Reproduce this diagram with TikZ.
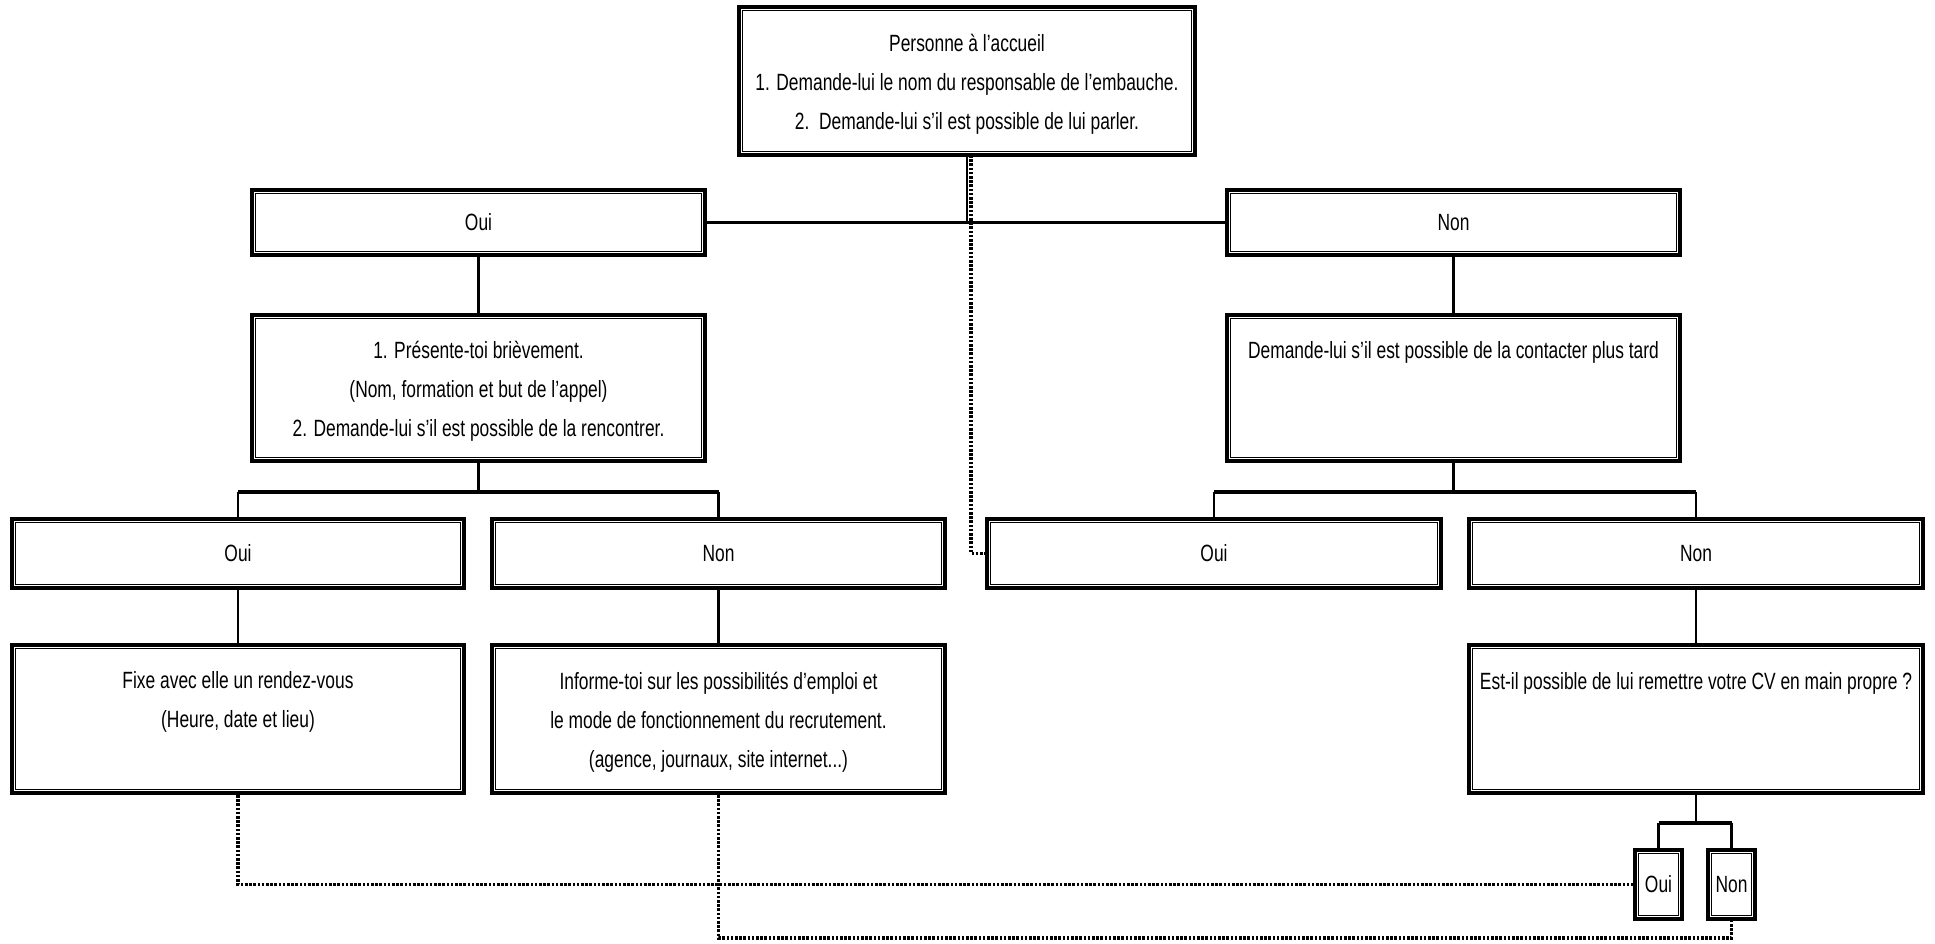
\documentclass[tikz,border=0pt]{standalone}
\usepackage{fontspec}
\setmainfont[FakeStretch=0.74]{Liberation Sans}
\usetikzlibrary{fit}
\tikzset{
  outerbox/.style={draw, line width=3.8pt, inner sep=0pt},
  innerline/.style={draw, line width=1.4pt},
  txt/.style={align=center, inner sep=0pt, font=\fontsize{23.5}{39}\selectfont},
  conn/.style={line width=2.2pt},
  bar/.style={line width=3.8pt},
  dots/.style={line width=3.2pt, dash pattern=on 2.6pt off 1.6pt}
}
\newcommand\dblbox[5]{%
  \node[outerbox, fit={(#2,#3) (#4,#5)}] (#1) {};
  \draw[innerline] ([shift={(5.5,5.5)}]#1.north west) rectangle ([shift={(-5.5,-5.5)}]#1.south east);
}
\begin{document}
\begin{tikzpicture}[x=1pt,y=-1pt]
\useasboundingbox (0,0) rectangle (1935,943);
% boxes
\dblbox{top}{739}{7}{1195}{155}
\dblbox{oui1}{252}{190}{705}{255}
\dblbox{non1}{1227}{190}{1680}{255}
\dblbox{pres}{252}{315}{705}{461}
\dblbox{tard}{1227}{315}{1680}{461}
\dblbox{ouiA}{12}{519}{464}{588}
\dblbox{nonA}{492}{519}{945}{588}
\dblbox{ouiB}{987}{519}{1441}{588}
\dblbox{nonB}{1469}{519}{1923}{588}
\dblbox{fixe}{12}{645}{464}{793}
\dblbox{info}{492}{645}{945}{793}
\dblbox{estil}{1469}{645}{1923}{793}
\dblbox{sOui}{1635}{850}{1682}{919}
\dblbox{sNon}{1708}{850}{1755}{919}
% texts
\node[txt] (t-top) at (967,84) {Personne à l'accueil\\1. Demande-lui le nom du responsable de l'embauche.\\2.\ \ Demande-lui s'il est possible de lui parler.};
\node[txt] (t-oui1) at (oui1) {Oui};
\node[txt] (t-non1) at (non1) {Non};
\node[txt] (t-pres) at (478.5,391) {1. Présente-toi brièvement.\\(Nom, formation et but de l'appel)\\2. Demande-lui s'il est possible de la rencontrer.};
\node[txt] (t-tard) at (1453.5,352) {Demande-lui s'il est possible de la contacter plus tard};
\node[txt] (t-ouiA) at (ouiA) {Oui};
\node[txt] (t-nonA) at (nonA) {Non};
\node[txt] (t-ouiB) at (ouiB) {Oui};
\node[txt] (t-nonB) at (nonB) {Non};
\node[txt] (t-fixe) at (238,702) {Fixe avec elle un rendez-vous\\(Heure, date et lieu)};
\node[txt] (t-info) at (718.5,722) {Informe-toi sur les possibilités d'emploi et\\le mode de fonctionnement du recrutement.\\(agence, journaux, site internet...)};
\node[txt] (t-estil) at (1696,683) {Est-il possible de lui remettre votre CV en main propre ?};
\node[txt] (t-sOui) at (sOui) {Oui};
\node[txt] (t-sNon) at (sNon) {Non};
% coordinates
\coordinate (j1) at (967,222);
\coordinate (j2) at (478.5,492);
\coordinate (j3) at (1453.5,492);
\coordinate (j4) at (1696,823);
\coordinate (dtop) at (971,155);
\coordinate (dn) at (1731.5,938);
% solid connectors
\draw[bar] (oui1.east) -- (non1.west);
\draw[conn] (top.south) -- (j1);
\draw[conn] (oui1.south) -- (pres.north);
\draw[conn] (non1.south) -- (tard.north);
\draw[conn] (pres.south) -- (j2);
\draw[bar] (ouiA.north |- j2) -- (nonA.north |- j2);
\draw[conn] (ouiA.north |- j2) -- (ouiA.north);
\draw[conn] (nonA.north |- j2) -- (nonA.north);
\draw[conn] (tard.south) -- (j3);
\draw[bar] (ouiB.north |- j3) -- (nonB.north |- j3);
\draw[conn] (ouiB.north |- j3) -- (ouiB.north);
\draw[conn] (nonB.north |- j3) -- (nonB.north);
\draw[conn] (ouiA.south) -- (fixe.north);
\draw[conn] (nonA.south) -- (info.north);
\draw[conn] (nonB.south) -- (estil.north);
\draw[conn] (estil.south) -- (j4);
\draw[bar] (sOui.north |- j4) -- (sNon.north |- j4);
\draw[conn] (sOui.north |- j4) -- (sOui.north);
\draw[conn] (sNon.north |- j4) -- (sNon.north);
% dotted connectors
\draw[dots] (dtop) |- (ouiB.west);
\draw[dots] (fixe.south) |- (sOui.west);
\draw[dots] (info.south) |- (dn) -- (sNon.south);
\end{tikzpicture}
\end{document}
